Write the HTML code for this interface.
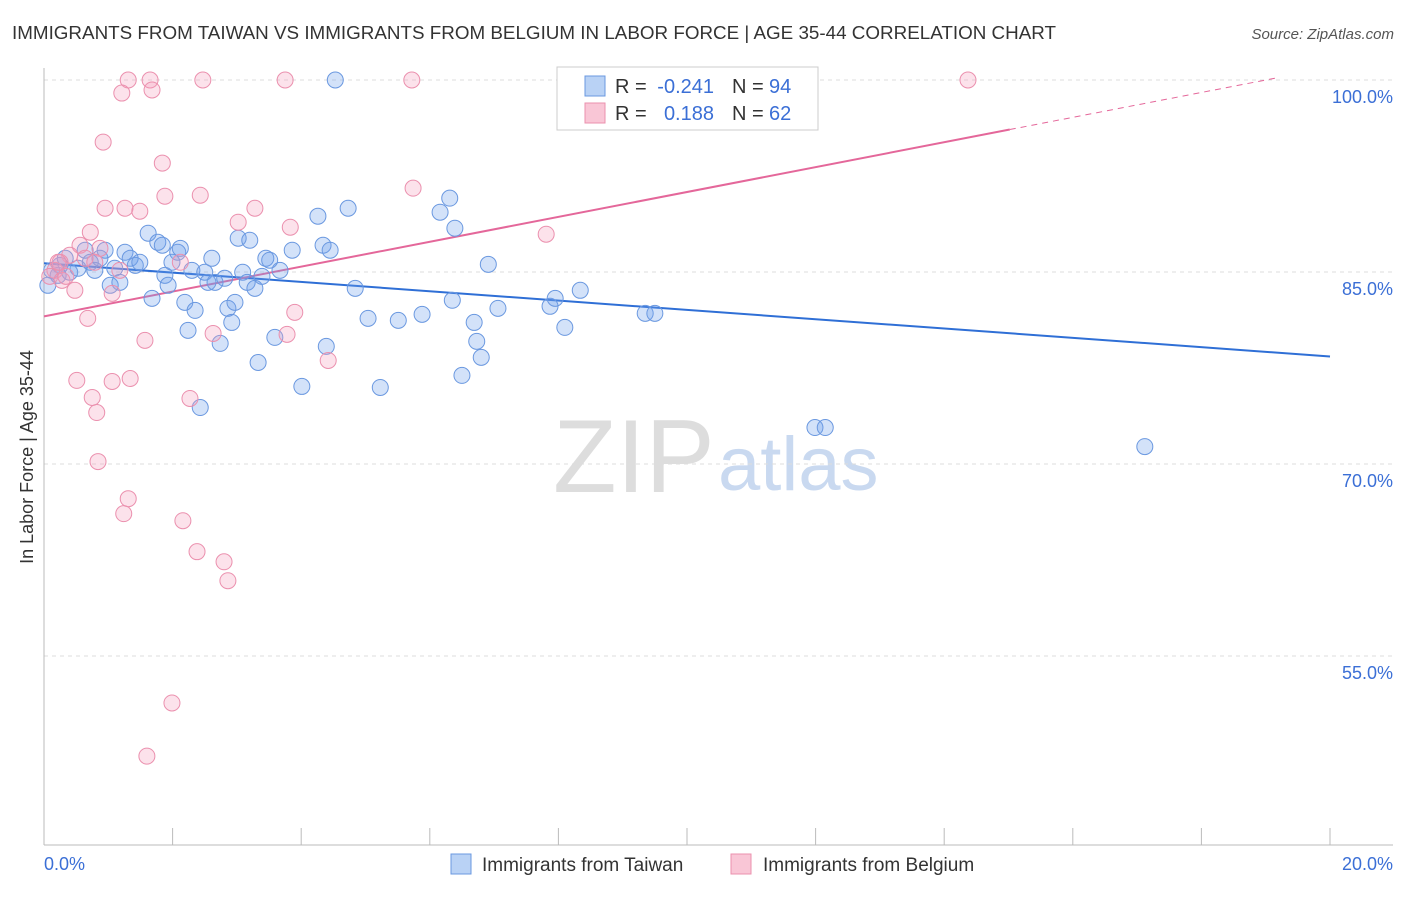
<!DOCTYPE html>
<html><head><meta charset="utf-8"><style>
body{margin:0;background:#fff;font-family:"Liberation Sans",sans-serif;}
svg text{font-family:"Liberation Sans",sans-serif;}
</style></head><body>
<svg id="chart" width="1406" height="892" xmlns="http://www.w3.org/2000/svg">
<text x="12" y="39" font-size="18" fill="#333" textLength="1044" lengthAdjust="spacingAndGlyphs">IMMIGRANTS FROM TAIWAN VS IMMIGRANTS FROM BELGIUM IN LABOR FORCE | AGE 35-44 CORRELATION CHART</text>
<text x="1394" y="39" font-size="15" fill="#555" text-anchor="end" font-style="italic">Source: ZipAtlas.com</text>
<text x="553" y="492" font-size="104" fill="#ddd" font-family="Liberation Serif, serif">ZIP</text>
<text x="718" y="490" font-size="76" fill="#c9d9f0">atlas</text>
<text transform="translate(33,457) rotate(-90)" font-size="18" fill="#333" text-anchor="middle">In Labor Force | Age 35-44</text>
<g id="grid"></g><g id="axes"></g><g id="trend"></g><g id="pts"></g>
<g>
<rect x="557" y="67" width="261" height="63" fill="#fff" stroke="#ccc"/>
<rect x="585" y="76" width="20" height="20" fill="#b9d2f5" stroke="#6a98e0"/>
<rect x="585" y="103" width="20" height="20" fill="#f9c6d6" stroke="#eb90ae"/>
<text x="615" y="93" font-size="20" fill="#333">R =</text>
<text x="714" y="93" font-size="20" fill="#3b6fd6" text-anchor="end">-0.241</text>
<text x="732" y="93" font-size="20" fill="#333">N =</text>
<text x="769" y="93" font-size="20" fill="#3b6fd6">94</text>
<text x="615" y="120" font-size="20" fill="#333">R =</text>
<text x="714" y="120" font-size="20" fill="#3b6fd6" text-anchor="end">0.188</text>
<text x="732" y="120" font-size="20" fill="#333">N =</text>
<text x="769" y="120" font-size="20" fill="#3b6fd6">62</text>
</g>
<g>
<rect x="451" y="854" width="20" height="20" fill="#b9d2f5" stroke="#6a98e0"/>
<text x="482" y="871" font-size="19" fill="#333">Immigrants from Taiwan</text>
<rect x="731" y="854" width="20" height="20" fill="#f9c6d6" stroke="#eb90ae"/>
<text x="763" y="871" font-size="19" fill="#333">Immigrants from Belgium</text>
</g>
</svg>
<script>
const yTicks=[100,85,70,55];
const xTickLabels=["0.0%","20.0%"];
const blueX=[4.53,11.76,0.25,0.12,0.22,0.33,0.40,0.53,0.64,0.72,0.79,0.87,0.95,1.03,1.10,1.18,1.26,1.34,1.42,1.49,1.62,1.68,1.77,1.84,1.88,1.93,1.99,2.08,2.12,2.19,2.24,2.30,2.35,2.43,2.50,2.55,2.61,2.66,2.74,2.81,2.86,2.92,2.97,3.02,3.09,3.16,3.20,3.28,3.33,3.39,3.45,3.51,3.59,3.67,3.86,4.01,4.26,4.34,4.39,4.45,4.73,4.84,5.04,5.23,5.51,5.88,6.16,6.31,6.35,6.39,6.50,6.69,6.73,6.80,6.91,7.06,7.87,7.95,8.10,8.34,9.35,9.50,11.99,12.15,17.12,0.06];
const blueY=[100,100,85.52,85.13,84.74,86.07,84.98,85.29,86.70,85.76,85.13,86.07,86.70,83.96,85.29,84.19,86.54,86.07,85.52,85.76,88.03,82.94,87.32,87.09,84.74,83.96,85.76,86.54,86.85,82.63,80.44,85.13,82.00,74.41,84.98,84.19,86.07,84.19,79.42,84.51,82.16,81.06,82.63,87.64,84.98,84.19,87.48,83.72,77.93,84.66,86.07,85.92,79.89,85.13,86.70,76.06,89.36,87.09,79.19,86.70,89.98,83.72,81.38,75.98,81.22,81.69,89.67,90.77,82.79,88.42,76.92,81.06,79.58,78.33,85.60,82.16,82.32,82.94,80.67,83.57,81.77,81.77,72.85,72.85,71.36,83.96];
const pinkX=[1.31,1.65,2.47,3.75,5.72,14.37,1.21,1.68,0.92,1.84,1.88,2.43,5.74,7.81,0.95,1.26,1.49,3.28,3.02,3.83,0.72,0.56,0.87,0.40,0.64,0.25,0.17,0.09,0.28,0.48,1.06,2.12,0.68,3.90,1.57,2.63,3.78,4.42,0.51,1.06,1.34,0.75,2.27,0.82,0.84,1.31,1.24,2.16,2.38,2.80,2.86,1.99,1.60,1.18,0.79,0.34,0.22];
const pinkY=[100,100,100,100,100,100,98.98,99.22,95.15,93.51,90.92,91.00,91.55,87.95,89.98,89.98,89.75,89.98,88.89,88.50,88.11,87.09,86.85,86.31,86.07,85.76,85.13,84.66,84.35,83.57,83.33,85.76,81.38,81.85,79.66,80.20,80.13,78.09,76.53,76.45,76.68,75.20,75.12,74.02,70.19,67.29,66.12,65.57,63.15,62.36,60.88,51.33,47.18,85.13,85.76,84.66,85.76];
const blueTrend=[85.68,78.4];
const pinkTrend=[81.53,100.97];
const NS="http://www.w3.org/2000/svg";
const X0=44,X1=1330,xs=v=>X0+(v/20)*(X1-X0);
const ys=v=>80+(100-v)*(192/15);
function mk(tag,attrs,parent){const e=document.createElementNS(NS,tag);for(const k in attrs)e.setAttribute(k,attrs[k]);document.getElementById(parent).appendChild(e);return e;}
yTicks.forEach(t=>{
 const l=mk('line',{x1:X0,x2:1393,y1:ys(t),y2:ys(t),stroke:'#ddd','stroke-dasharray':'4,4'},'grid');
 
 
 const tx=mk('text',{x:1393,y:ys(t)+23,'font-size':18,fill:'#3b6fd6','text-anchor':'end'},'grid');
 tx.textContent=t.toFixed(1)+'%';
 
 
});
let a=mk('line',{x1:X0,x2:X0,y1:68,y2:845,stroke:'#bbb'},'axes');


a=mk('line',{x1:X0,x2:1393,y1:845,y2:845,stroke:'#bbb'},'axes');


for(let i=0;i<=20;i+=2){const t=mk('line',{x1:xs(i),x2:xs(i),y1:828,y2:845,stroke:'#bbb'},'axes');
 
 }
[[0,xTickLabels[0],'start',44],[20,xTickLabels[1],'end',1393]].forEach(d=>{const t=mk('text',{x:d[3],y:870,'font-size':18,fill:'#3b6fd6','text-anchor':d[2]},'axes');t.textContent=d[1];
 
 });
function dot(x,y,f,s){const c=mk('circle',{cx:xs(x),cy:ys(y),r:8,fill:f,stroke:s,'stroke-width':1},'pts');return c;}
blueX.forEach((x,i)=>{const c=dot(x,blueY[i],'rgba(110,160,235,0.3)','#6a98e0');
 
 });
pinkX.forEach((x,i)=>{const c=dot(x,pinkY[i],'rgba(245,160,190,0.3)','#eb90ae');
 
 });
let tl=mk('line',{x1:xs(0),y1:ys(blueTrend[0]),x2:xs(20),y2:ys(blueTrend[1]),stroke:'#2f6fd6','stroke-width':2},'trend');


const ps=(pinkTrend[1]-pinkTrend[0])/20, cut=15.02, end=((100.15-pinkTrend[0])/ps);
tl=mk('line',{x1:xs(0),y1:ys(pinkTrend[0]),x2:xs(cut),y2:ys(pinkTrend[0]+ps*cut),stroke:'#e4679a','stroke-width':2},'trend');


tl=mk('line',{x1:xs(cut),y1:ys(pinkTrend[0]+ps*cut),x2:xs(end),y2:ys(pinkTrend[0]+ps*end),stroke:'#e4679a','stroke-width':1,'stroke-dasharray':'6,5'},'trend');


</script>
</body></html>
